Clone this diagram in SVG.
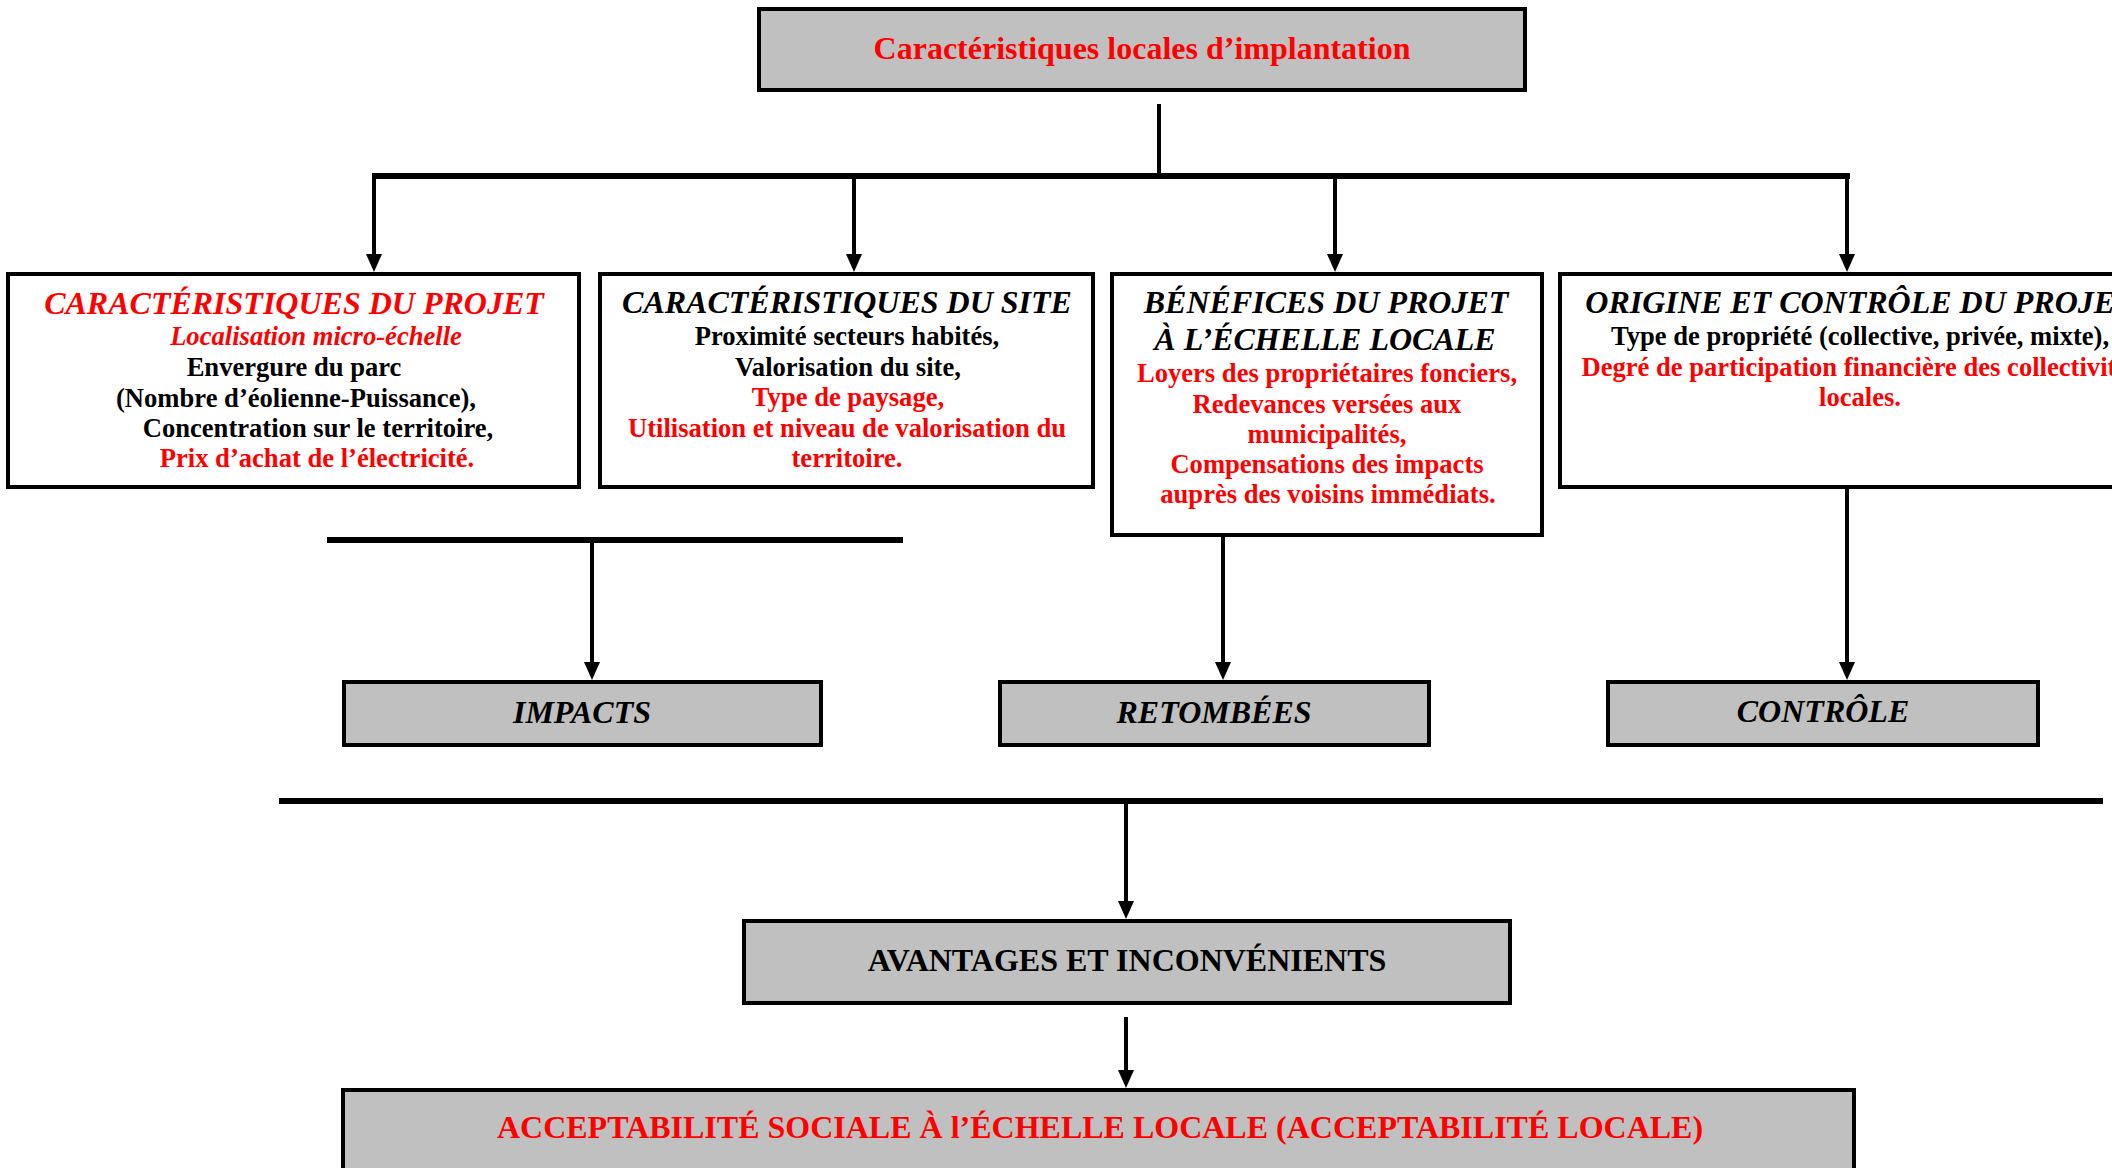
<svg xmlns="http://www.w3.org/2000/svg" width="2112" height="1168" viewBox="0 0 2112 1168">
<style>
.box{fill:#ffffff;stroke:#000;stroke-width:4}
.gbox{fill:#c0c0c0;stroke:#000;stroke-width:4}
text{font-family:"Liberation Serif","Times New Roman",serif;font-weight:bold;text-anchor:middle}
.h{font-size:32px;font-style:italic}
.b{font-size:26.6px}
.bi{font-size:26.6px;font-style:italic}
.t{font-size:32px}
.red{fill:#ff0000}
.blk{fill:#000}
.ln{stroke:#000;stroke-width:4;fill:none}
.bar{stroke:#000;stroke-width:6;fill:none}
</style>
<defs>
<marker id="ah" viewBox="0 0 18 16" markerUnits="userSpaceOnUse" markerWidth="18" markerHeight="16" refX="8" refY="8" orient="auto">
<path d="M0,0 L18,8 L0,16 Z" fill="#000"/>
</marker>
</defs>

<g id="connectors">
<line class="ln" x1="1159" y1="104" x2="1159" y2="176"/>
<line class="bar" x1="372" y1="176" x2="1850" y2="176"/>
<line class="ln" x1="374" y1="176" x2="374" y2="262" marker-end="url(#ah)"/>
<line class="ln" x1="854" y1="176" x2="854" y2="262" marker-end="url(#ah)"/>
<line class="ln" x1="1335" y1="176" x2="1335" y2="262" marker-end="url(#ah)"/>
<line class="ln" x1="1847" y1="176" x2="1847" y2="262" marker-end="url(#ah)"/>
<line class="bar" x1="327" y1="540" x2="903" y2="540"/>
<line class="ln" x1="592" y1="540" x2="592" y2="670" marker-end="url(#ah)"/>
<line class="ln" x1="1223" y1="537" x2="1223" y2="670" marker-end="url(#ah)"/>
<line class="ln" x1="1847" y1="489" x2="1847" y2="670" marker-end="url(#ah)"/>
<line class="bar" x1="279" y1="801" x2="2103" y2="801"/>
<line class="ln" x1="1126" y1="801" x2="1126" y2="909" marker-end="url(#ah)"/>
<line class="ln" x1="1126" y1="1017" x2="1126" y2="1078" marker-end="url(#ah)"/>
</g>

<g id="top">
<rect class="gbox" x="759" y="9" width="766" height="81"/>
<text class="t red" x="1142" y="59">Caractéristiques locales d’implantation</text>
</g>

<g id="projet">
<rect class="box" x="8" y="274" width="571" height="213"/>
<text class="h red" x="294" y="314">CARACTÉRISTIQUES DU PROJET</text>
<text class="bi red" x="316" y="345">Localisation micro-échelle</text>
<text class="b blk" x="294" y="376">Envergure du parc</text>
<text class="b blk" x="296" y="407">(Nombre d’éolienne-Puissance),</text>
<text class="b blk" x="318" y="437">Concentration sur le territoire,</text>
<text class="b red" x="317" y="467">Prix d’achat de l’électricité.</text>
</g>

<g id="site">
<rect class="box" x="600" y="274" width="493" height="213"/>
<text class="h blk" x="847" y="313">CARACTÉRISTIQUES DU SITE</text>
<text class="b blk" x="847" y="345">Proximité secteurs habités,</text>
<text class="b blk" x="848" y="376">Valorisation du site,</text>
<text class="b red" x="848" y="406">Type de paysage,</text>
<text class="b red" x="847" y="437">Utilisation et niveau de valorisation du</text>
<text class="b red" x="847" y="467">territoire.</text>
</g>

<g id="benefices">
<rect class="box" x="1112" y="274" width="430" height="261"/>
<text class="h blk" x="1326" y="313">BÉNÉFICES DU PROJET</text>
<text class="h blk" x="1325" y="350">À L’ÉCHELLE LOCALE</text>
<text class="b red" x="1327" y="382">Loyers des propriétaires fonciers,</text>
<text class="b red" x="1327" y="413">Redevances versées aux</text>
<text class="b red" x="1327" y="443">municipalités,</text>
<text class="b red" x="1327" y="473">Compensations des impacts</text>
<text class="b red" x="1328" y="503">auprès des voisins immédiats.</text>
</g>

<g id="origine">
<rect class="box" x="1560" y="274" width="600" height="213"/>
<text class="h blk" x="1860" y="313">ORIGINE ET CONTRÔLE DU PROJET</text>
<text class="b blk" x="1860" y="345">Type de propriété (collective, privée, mixte),</text>
<text class="b red" x="1860" y="376">Degré de participation financière des collectivités</text>
<text class="b red" x="1860" y="406">locales.</text>
</g>

<g id="impacts">
<rect class="gbox" x="344" y="682" width="477" height="63"/>
<text class="h blk" x="582" y="723">IMPACTS</text>
</g>

<g id="retombees">
<rect class="gbox" x="1000" y="682" width="429" height="63"/>
<text class="h blk" x="1214" y="723">RETOMBÉES</text>
</g>

<g id="controle">
<rect class="gbox" x="1608" y="682" width="430" height="63"/>
<text class="h blk" x="1823" y="722">CONTRÔLE</text>
</g>

<g id="avantages">
<rect class="gbox" x="744" y="921" width="766" height="82"/>
<text class="t blk" x="1127" y="971">AVANTAGES ET INCONVÉNIENTS</text>
</g>

<g id="acceptabilite">
<rect class="gbox" x="343" y="1090" width="1511" height="100"/>
<text class="t red" x="1100" y="1138">ACCEPTABILITÉ SOCIALE À l’ÉCHELLE LOCALE (ACCEPTABILITÉ LOCALE)</text>
</g>
</svg>
